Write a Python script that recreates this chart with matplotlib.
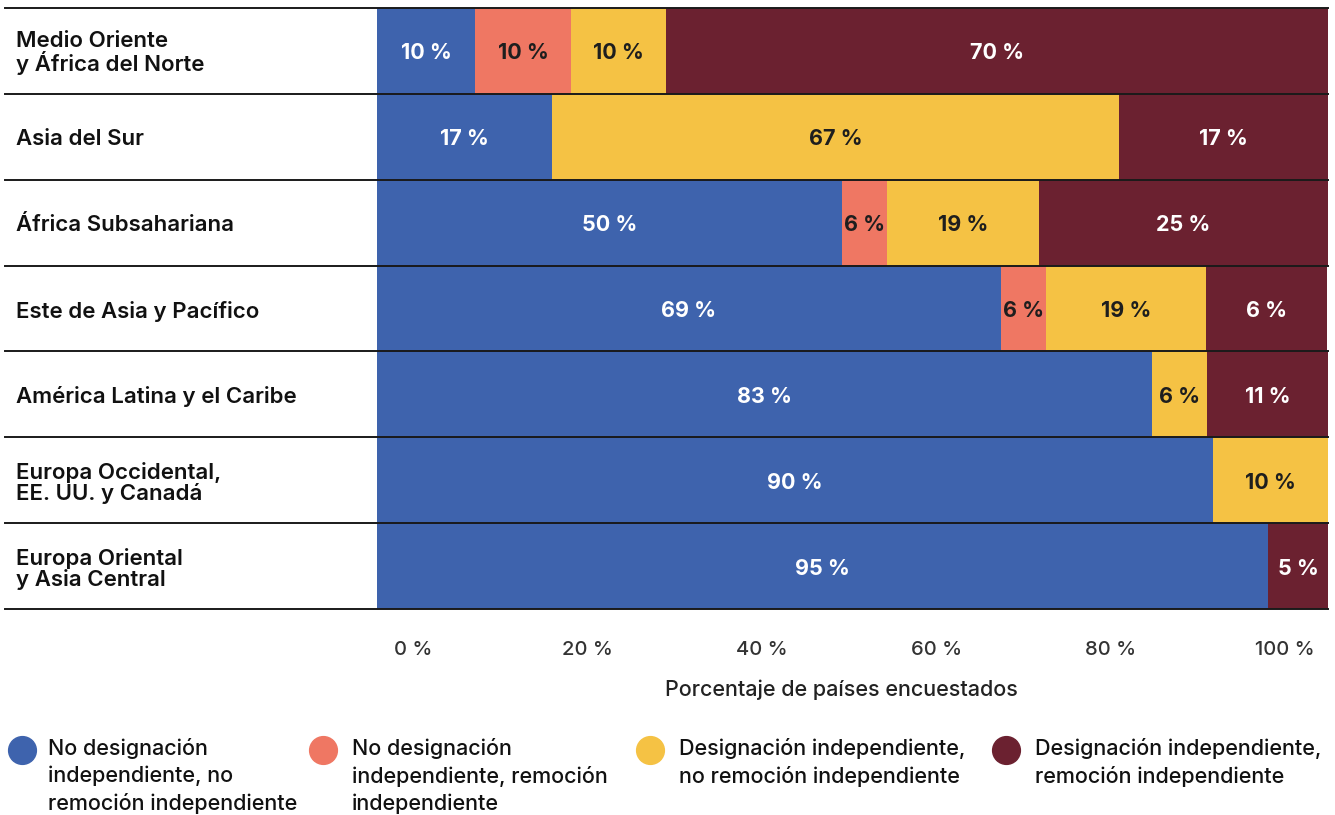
import numpy as np
import matplotlib
matplotlib.use("Agg")
import matplotlib.pyplot as plt
from matplotlib.lines import Line2D

plt.rcParams['font.family'] = ['Inter', 'DejaVu Sans']

# ---------- datos ----------
regiones = [
    "Medio Oriente\ny África del Norte",
    "Asia del Sur",
    "África Subsahariana",
    "Este de Asia y Pacífico",
    "América Latina y el Caribe",
    "Europa Occidental,\nEE. UU. y Canadá",
    "Europa Oriental\ny Asia Central",
]

# anchos de los segmentos tal como se ven en el gráfico (%)
ancho_no_no = [10.3, 18.4, 48.9, 65.6, 81.5, 87.9, 93.7]
ancho_no_si = [10.1, 0, 4.7, 4.7, 0, 0, 0]
ancho_si_no = [10.0, 59.6, 16.0, 16.9, 5.8, 12.1, 0]
ancho_si_si = [69.6, 22.0, 30.4, 12.7, 12.7, 0, 6.3]

# etiquetas impresas sobre cada segmento
etq_no_no = [10, 17, 50, 69, 83, 90, 95]
etq_no_si = [10, None, 6, 6, None, None, None]
etq_si_no = [10, 67, 19, 19, 6, 10, None]
etq_si_si = [70, 17, 25, 6, 11, None, 5]

categorias = [
    "No designación\nindependiente, no\nremoción independiente",
    "No designación\nindependiente, remoción\nindependiente",
    "Designación independiente,\nno remoción independiente",
    "Designación independiente,\nremoción independiente",
]
colores = ["#3E63AD", "#EF7763", "#F5C244", "#6B2130"]
color_texto = ["white", "#1E1E1E", "#1E1E1E", "white"]

ticks_txt = ["0 %", "20 %", "40 %", "60 %", "80 %", "100 %"]

# ---------- figura ----------
fig = plt.figure(figsize=(13.35, 8.15), dpi=100)
ax = fig.add_axes([0.2824, 0.2528, 0.7124, 0.7374])

y = np.arange(len(regiones))
anchos = [ancho_no_no, ancho_no_si, ancho_si_no, ancho_si_si]
etiquetas = [etq_no_no, etq_no_si, etq_si_no, etq_si_si]

izq = np.zeros(len(regiones))
for k in range(4):
    w = np.array(anchos[k], dtype=float)
    ax.barh(y, w, left=izq, height=1.0, color=colores[k], edgecolor="none")
    for i in range(len(regiones)):
        if etiquetas[k][i] is not None:
            ax.text(izq[i] + w[i] / 2, y[i] + 0.03, f"{etiquetas[k][i]} %",
                    ha="center", va="center", fontsize=15.5, fontweight="bold",
                    color=color_texto[k])
    izq += w

ax.set_xlim(0, 100)
ax.set_ylim(len(regiones) - 0.5, -0.5)

# líneas separadoras que también cruzan la columna de nombres
x0 = -372 / 951
for b in np.arange(-0.5, len(regiones), 1.0):
    ax.axhline(b, xmin=x0, xmax=1, color="#1a1a1a", lw=1.4, clip_on=False, zorder=5)

for i, r in enumerate(regiones):
    ax.text(-361 / 951, y[i] + 0.03, r, transform=ax.get_yaxis_transform(),
            ha="left", va="center", fontsize=16, fontweight="semibold",
            color="#111111", linespacing=1.0)

for s in ax.spines.values():
    s.set_visible(False)
ax.set_yticks([])

ax.set_xticks(np.linspace(3.8, 95.5, len(ticks_txt)))
ax.set_xticklabels(ticks_txt, fontsize=14.5, fontweight="medium", color="#333333")
ax.tick_params(axis="x", length=0, pad=23)
ax.set_xlabel("Porcentaje de países encuestados", fontsize=15.5, fontweight="medium",
              color="#222222")
ax.xaxis.set_label_coords(0.488, -0.117)

# leyenda manual
leg_x = [22, 323, 650, 1006]
txt_x = [48, 352, 679, 1035]
for k in range(4):
    fig.add_artist(Line2D([leg_x[k] / 1335], [1 - 750 / 815], marker="o",
                          markersize=20, color=colores[k], linestyle="none"))
    fig.text(txt_x[k] / 1335, 1 - 738 / 815, categorias[k], ha="left", va="top",
             fontsize=15.5, fontweight="medium", color="#111111", linespacing=1.4)

fig.savefig("out.png", dpi=100)
